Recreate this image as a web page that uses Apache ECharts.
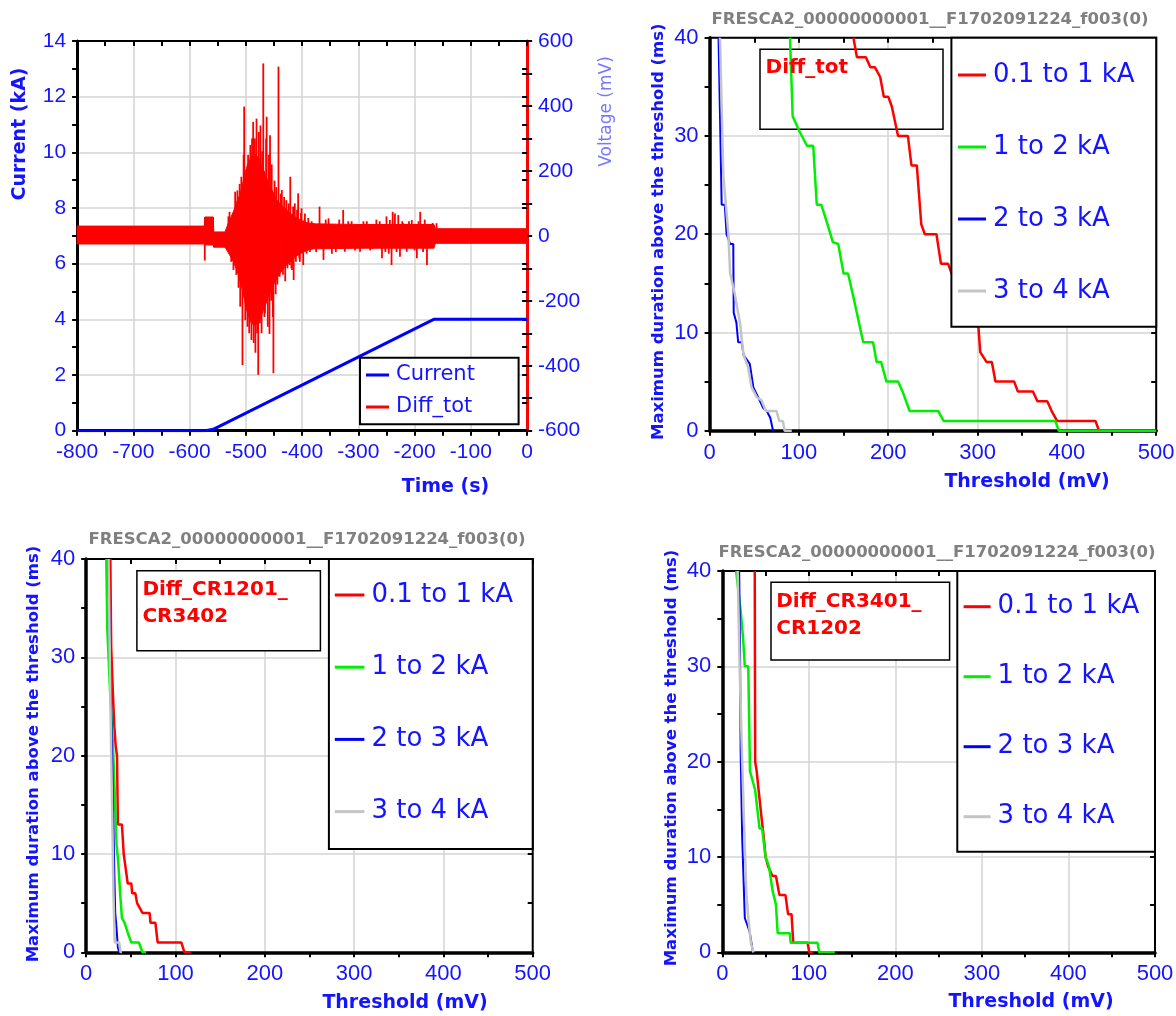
<!DOCTYPE html>
<html>
<head>
<meta charset="utf-8">
<script src="https://cdn.jsdelivr.net/npm/echarts/dist/echarts.min.js"></script>
<style>
html,body{margin:0;padding:0;background:#fff;}
#chart{width:1176px;height:1016px;}
</style>
</head>
<body>
<div id="chart"></div>
<script>
// ---------- Panel 1 data: current ramp and Diff_tot voltage ----------
const currentTime = [-800, -572, -558, -166, 0];          // s
const currentKA   = [0, 0, 0.05, 4, 4];                    // kA

// Dense noise core of Diff_tot: [time s, low mV, high mV]
const diffTotBand = [
  [-800,-25,30],[-574,-25,30],[-573,-28,58],[-558,-28,58],[-557,-35,12],[-537,-35,12],
  [-530,-55,45],[-522,-80,75],[-515,-110,110],[-510,-140,130],[-503,-190,180],[-497,-240,220],
  [-490,-270,245],[-483,-275,250],[-475,-255,235],[-468,-225,200],[-460,-190,165],[-452,-155,135],
  [-445,-130,110],[-437,-110,95],[-428,-90,80],[-420,-78,68],[-410,-62,56],[-400,-52,46],
  [-390,-44,40],[-380,-40,37],[-300,-38,35],[-166,-38,35],[-163,-23,22],[0,-23,22]
];

// Individual Diff_tot spikes: [time s, peak mV]
const diffTotSpikes = [
  [-573,-76],[-531,60],[-529,74],[-526,-80],[-522,-105],[-519,136],[-517,-120],[-515,140],[-513,-160],
  [-511,160],[-510,-218],[-508,182],[-506,-398],[-504,250],[-503,398],[-501,-260],[-499,205],[-497,-280],
  [-496,250],[-494,-300],[-492,280],[-490,-321],[-489,300],[-487,351],[-486,-330],[-484,300],[-483,-360],
  [-481,361],[-480,-300],[-478,-428],[-477,320],[-475,-269],[-474,340],[-472,-300],[-471,260],[-469,531],
  [-467,-250],[-466,-238],[-464,300],[-463,367],[-461,-280],[-459,250],[-458,-302],[-457,310],[-455,-200],
  [-454,220],[-452,-250],[-451,-423],[-449,170],[-447,-180],[-446,150],[-444,-150],[-442,521],[-440,-126],
  [-438,130],[-436,141],[-434,-120],[-432,120],[-430,-140],[-428,110],[-426,-100],[-424,100],[-422,-90],
  [-421,182],[-419,-100],[-418,-105],[-416,90],[-415,-136],[-413,100],[-411,-80],[-409,80],[-407,131],
  [-405,-70],[-404,-80],[-402,70],[-401,85],[-398,-90],[-396,50],[-395,69],[-392,-55],[-389,55],
  [-386,-50],[-383,45],[-380,39],[-375,-50],[-369,90],[-362,-74],[-358,50],[-353,54],[-347,-55],
  [-340,-50],[-334,50],[-327,80],[-324,-49],[-318,45],[-312,45],[-306,-45],[-300,35],[-297,-49],
  [-291,45],[-285,45],[-279,-45],[-275,-40],[-268,50],[-262,45],[-258,-69],[-252,-50],[-250,60],
  [-246,-55],[-244,49],[-241,-90],[-239,74],[-235,69],[-232,-50],[-229,64],[-226,-64],[-222,45],
  [-220,39],[-214,-49],[-210,45],[-205,49],[-200,-45],[-196,-69],[-193,45],[-190,74],[-185,-50],
  [-182,50],[-178,-90],[-173,33],[-168,40],[-161,39]
];

// ---------- Threshold panels: [threshold mV, max duration ms] ----------
const totRed   = [[161,40],[165,38],[175,38],[180,37],[185,37],[191,36],[195,34],[200,34],[204,33],[211,30],[222,30],[226,27],[232,27],[237,21],[241,20],[254,20],[259,17],[267,17],[271,16],[280,15],[286,13],[292,12],[298,11],[301,10.5],[303,8],[310,7],[316,7],[320,5],[341,5],[345,4],[362,4],[367,3],[378,3],[383,2],[389,1],[432,1],[436,0],[455,0]];
const totGreen = [[90,40],[93,32],[101,30.4],[109,29],[116,29],[120,23],[125,23],[131,21.3],[138,19.2],[144,19],[150,16],[155,16],[161,13.6],[172,9],[183,9],[187,7],[192,7],[198,5],[211,5],[216,4],[224,2],[256,2],[262,1],[387,1],[391,0],[500,0]];
const totBlue  = [[10,40],[13.5,23],[17,23],[19,20],[23,19],[26.5,19],[27,12],[30,11],[32,9],[36,9],[38,7.7],[45,6.8],[49,4.4],[56,3.1],[60,2.3],[64,2],[68,1.3],[71,0]];
const totGray  = [[11.6,40],[15.4,26],[21,20],[23,16],[28,14],[34,11],[38,7.7],[43,6.5],[47,4.4],[53,3.4],[58,3.1],[63,2],[75,2],[78,1],[82,1],[84,0],[92,0]];

const cr12Red   = [[27,40],[28,31],[30,26],[31.5,23],[33,21],[34.5,20],[35.5,13],[40,13],[42,10],[45,8],[46.5,7],[50.5,7],[51.5,6],[55,6],[57,5],[63,4],[71,4],[72,3],[77.5,3],[80,1],[106.5,1],[110,0],[117,0]];
const cr12Green = [[22.5,40],[23.6,33],[27,26],[30,21],[32,16],[34,11],[36,9],[38,6],[40,3.5],[43,3],[46.5,2],[50.5,1],[59,1],[63,0],[67,0]];
const cr12Blue  = [[24.5,40],[27,30],[29,20],[30.5,13],[31.5,8],[32.5,4],[33.5,3],[35.5,0.5],[37,0]];
const cr12Gray  = [[25,40],[26.5,30],[28,20],[29.5,12],[30.5,6],[32,1],[37,1],[38.5,0],[40,0]];

const cr34Red   = [[37.5,40],[38,20],[39.7,19],[42,17],[45.5,14],[48,12],[50,10],[53,9],[58,8],[62,8],[64,7],[66,6],[73,6],[76,4],[80,4],[82,1],[98.5,1],[100.5,0],[105,0]];
const cr34Green = [[16,40],[21,36],[24,33],[26,30],[30,30],[32,19],[35,18],[38,17],[43,13],[46,13],[50,10],[54,9],[58,6.5],[62,5],[64,2],[78,2],[79,1],[110,1],[112,0],[130,0]];
const cr34Blue  = [[19.5,40],[20.5,32],[21.2,21],[23,12],[26,3.6],[31.5,2.2],[35.5,0]];
const cr34Gray  = [[17.8,40],[20,30],[23,20],[26,11],[28,6],[30,3.7],[33,1],[36,0]];

const rangeNames = ['0.1 to 1 kA', '1 to 2 kA', '2 to 3 kA', '3 to 4 kA'];
const titleText = 'FRESCA2_00000000001__F1702091224_f003(0)';

// ---------- styling ----------
const BLUE = '#1414ff', RED = '#ff0000', GREEN = '#00ee00', LBLUE = '#0000ff', GRAY = '#c4c4c4';
const rangeColors = [RED, GREEN, LBLUE, GRAY];
const rangeWidths = [2.5, 2.5, 2, 2.5];

function valAxis(o, labelSize, lineColor, lineWidth) {
  return Object.assign({
    type: 'value',
    axisLine: {show: true, onZero: false, lineStyle: {color: lineColor || '#000', width: lineWidth || 3.5}},
    axisTick: {show: true, length: 5, lineStyle: {color: '#000', width: 2}},
    minorTick: {show: true, splitNumber: 2, length: 5, lineStyle: {color: '#000', width: 2}},
    splitLine: {show: true, lineStyle: {color: '#d4d4d4', width: 1.5}},
    axisLabel: {color: BLUE, fontFamily: 'Liberation Sans', fontSize: labelSize || 22, margin: 11,
                showMinLabel: true, showMaxLabel: true},
  }, o);
}
// companion axis that only draws the inner half of the crossing ticks
function tickAxis(o) {
  return Object.assign({
    type: 'value',
    axisLine: {show: false, onZero: false},
    axisTick: {show: true, inside: true, length: 5, lineStyle: {color: '#000', width: 2}},
    minorTick: {show: true, splitNumber: 2, length: 5, lineStyle: {color: '#000', width: 2}},
    splitLine: {show: false},
    axisLabel: {show: false}
  }, o);
}

const grids = [
  {left: 77.1, top: 41, width: 450, height: 389.7},
  {left: 709.6, top: 37.7, width: 446.6, height: 393},
  {left: 86.2, top: 559, width: 446.5, height: 393.3},
  {left: 722.3, top: 571, width: 432.7, height: 381.3}
].map(g => Object.assign(g, {show: false, containLabel: false, outerBoundsMode: 'none'}));

const xAxes = [
  valAxis({gridIndex: 0, min: -800, max: 0, interval: 100}, 21, '#000', 3),
  valAxis({gridIndex: 1, min: 0, max: 500, interval: 100}),
  valAxis({gridIndex: 2, min: 0, max: 500, interval: 100}),
  valAxis({gridIndex: 3, min: 0, max: 500, interval: 100}),
  tickAxis({gridIndex: 0, min: -800, max: 0, interval: 100}),
  tickAxis({gridIndex: 1, min: 0, max: 500, interval: 100}),
  tickAxis({gridIndex: 2, min: 0, max: 500, interval: 100}),
  tickAxis({gridIndex: 3, min: 0, max: 500, interval: 100})
];
const yAxes = [
  valAxis({gridIndex: 0, min: 0, max: 14, interval: 2}, 21, '#000', 3),
  valAxis({gridIndex: 0, position: 'right', min: -600, max: 600, interval: 200,
           splitLine: {show: false}}, 21, RED, 3),
  valAxis({gridIndex: 1, min: 0, max: 40, interval: 10}),
  valAxis({gridIndex: 2, min: 0, max: 40, interval: 10}),
  valAxis({gridIndex: 3, min: 0, max: 40, interval: 10}),
  tickAxis({gridIndex: 0, min: 0, max: 14, interval: 2}),
  tickAxis({gridIndex: 0, position: 'right', min: -600, max: 600, interval: 200}),
  tickAxis({gridIndex: 1, min: 0, max: 40, interval: 10}),
  tickAxis({gridIndex: 2, min: 0, max: 40, interval: 10}),
  tickAxis({gridIndex: 3, min: 0, max: 40, interval: 10})
];

const series = [];
series.push({
  type: 'line', name: 'Current', xAxisIndex: 0, yAxisIndex: 0,
  data: currentTime.map((t, i) => [t, currentKA[i]]),
  symbol: 'none', showSymbol: false,
  lineStyle: {color: LBLUE, width: 3}, itemStyle: {color: LBLUE}, z: 3
});
series.push({
  type: 'custom', name: 'Diff_tot', xAxisIndex: 0, yAxisIndex: 1,
  data: diffTotBand, encode: {x: 0, y: [1, 2]}, itemStyle: {color: RED},
  renderItem: function (params, api) {
    const i = params.dataIndex;
    if (i >= diffTotBand.length - 1) return {type: 'group', children: []};
    const a = diffTotBand[i], b = diffTotBand[i + 1];
    const pts = [api.coord([a[0], a[2]]), api.coord([b[0], b[2]]),
                 api.coord([b[0], b[1]]), api.coord([a[0], a[1]])];
    return {type: 'polygon', shape: {points: pts}, style: {fill: RED, stroke: RED, lineWidth: 1}};
  }
});
series.push({
  type: 'custom', name: 'Diff_tot', xAxisIndex: 0, yAxisIndex: 1,
  data: diffTotSpikes, encode: {x: 0, y: 1}, itemStyle: {color: RED},
  renderItem: function (params, api) {
    const t = api.value(0), v = api.value(1);
    const a = api.coord([t, 0]), b = api.coord([t, v]);
    return {type: 'line', shape: {x1: a[0], y1: a[1], x2: b[0], y2: b[1]},
            style: {stroke: RED, lineWidth: 1.8}};
  }
});

const panels = [
  {grid: 1, y: 2, curves: [totRed, totGreen, totBlue, totGray]},
  {grid: 2, y: 3, curves: [cr12Red, cr12Green, cr12Blue, cr12Gray]},
  {grid: 3, y: 4, curves: [cr34Red, cr34Green, cr34Blue, cr34Gray]}
];
panels.forEach(p => {
  p.curves.forEach((c, k) => {
    series.push({
      type: 'line', name: rangeNames[k], xAxisIndex: p.grid, yAxisIndex: p.y,
      data: c, symbol: 'none', showSymbol: false,
      lineStyle: {color: rangeColors[k], width: rangeWidths[k]},
      itemStyle: {color: rangeColors[k]}, z: 2 + k * 0.1
    });
  });
});

function legendCfg(names, left, top, iw, gap, size, lh) {
  return {
    data: names, orient: 'vertical', left: left, top: top, padding: 0,
    itemWidth: iw, itemHeight: 3, itemGap: gap, icon: 'rect', selectedMode: false,
    backgroundColor: 'transparent', borderWidth: 0, z: 10,
    textStyle: {color: BLUE, fontFamily: 'DejaVu Sans', fontSize: size, lineHeight: lh, padding: [0, 0, 0, 2]}
  };
}
const legends = [
  legendCfg(['Current', 'Diff_tot'], 366, 362, 23, 6, 21, 26),
  legendCfg(rangeNames, 958, 60, 28, 42, 26, 30),
  legendCfg(rangeNames, 334.8, 580, 29.6, 42.2, 26, 30),
  legendCfg(rangeNames, 963.6, 591.7, 27, 40, 26, 30)
];

function txt(text, x, y, font, fill, rot, align, vAlign) {
  return {type: 'text', x: x, y: y, rotation: rot || 0, z: 12, silent: true,
    style: {text: text, font: font, fill: fill,
            textAlign: align || 'center', align: align || 'center',
            textVerticalAlign: vAlign || 'middle', verticalAlign: vAlign || 'middle'}};
}
function box(x, y, w, h, z, lw) {
  return {type: 'rect', z: z, silent: true, shape: {x: x, y: y, width: w, height: h},
          style: {fill: '#fff', stroke: '#000', lineWidth: lw}};
}
// top (and right) frame edge of a panel, drawn above the grid lines
function frame(g, withRight) {
  const x1 = g.left, y1 = g.top, x2 = g.left + g.width, y2 = g.top + g.height;
  const pts = withRight ? [[x1, y1], [x2, y1], [x2, y2]] : [[x1, y1], [x2, y1]];
  return {type: 'polyline', z: 1.5, silent: true, shape: {points: pts},
          style: {stroke: '#000', lineWidth: 2, fill: null}};
}
const R90 = Math.PI / 2;
const NAMEFONT = 'bold 16.5px "DejaVu Sans"';
const AXFONT = 'bold 19px "DejaVu Sans"';
const TITLEFONT = 'bold 16.5px "DejaVu Sans"';
const LABELFONT = 'bold 20px "DejaVu Sans"';
const graphics = [
  frame(grids[0], false), frame(grids[1], true), frame(grids[2], true), frame(grids[3], true),
  // panel 1
  txt('Current (kA)', 19.6, 134, AXFONT, BLUE, R90),
  txt('Time (s)', 445.5, 487, AXFONT, BLUE),
  txt('Voltage (mV)', 606.8, 111.5, '17px "DejaVu Sans"', '#7878ff', R90),
  box(360, 357.7, 158.6, 66.6, 5, 2),
  // panel 2
  txt(titleText, 930, 20, TITLEFONT, '#808080'),
  txt('Maximum duration above the threshold (ms)', 658.4, 231.7, NAMEFONT, BLUE, R90),
  txt('Threshold (mV)', 1027, 481.7, AXFONT, BLUE),
  box(760, 49.3, 183, 80, 1, 1.5),
  txt('Diff_tot', 765.6, 68, LABELFONT, RED, 0, 'left'),
  box(951.4, 37.7, 204.8, 289, 5, 2),
  // panel 3
  txt(titleText, 307, 540, TITLEFONT, '#808080'),
  txt('Maximum duration above the threshold (ms)', 33.3, 754, NAMEFONT, BLUE, R90),
  txt('Threshold (mV)', 405, 1003, AXFONT, BLUE),
  box(136.9, 570.7, 183.5, 80, 1, 1.5),
  txt('Diff_CR1201_\nCR3402', 142.4, 576.5, LABELFONT, RED, 0, 'left', 'top'),
  box(328.9, 559, 203.8, 290, 5, 2),
  // panel 4
  txt(titleText, 937, 553, TITLEFONT, '#808080'),
  txt('Maximum duration above the threshold (ms)', 671.8, 758, NAMEFONT, BLUE, R90),
  txt('Threshold (mV)', 1031, 1001.7, AXFONT, BLUE),
  box(771, 582.3, 178.6, 77.7, 1, 1.5),
  txt('Diff_CR3401_\nCR1202', 776.2, 588, LABELFONT, RED, 0, 'left', 'top'),
  box(957.3, 571, 197.7, 280.7, 5, 2)
];
graphics.forEach(g => { if (g.type === 'text' && g.style.text.indexOf('\n') >= 0) g.style.lineHeight = 27; });

const chart = echarts.init(document.getElementById('chart'), null, {renderer: 'canvas'});
chart.setOption({
  backgroundColor: '#fff',
  animation: false,
  grid: grids,
  xAxis: xAxes,
  yAxis: yAxes,
  legend: legends,
  graphic: {elements: graphics},
  series: series
});
</script>
</body>
</html>
